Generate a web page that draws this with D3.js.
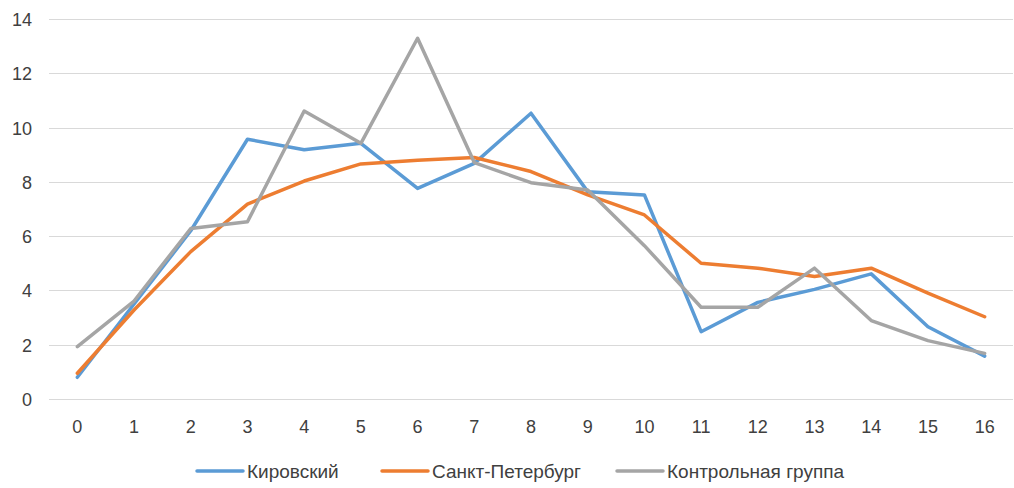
<!DOCTYPE html>
<html>
<head>
<meta charset="utf-8">
<script src="https://cdn.jsdelivr.net/npm/d3@7"></script>
<style>
  body { margin: 0; background: #fff; }
  text { font-family: "Liberation Sans", Arial, sans-serif; fill: #404040; }
</style>
</head>
<body>
<div id="chart-area"></div>
<script>
const categories = d3.range(0, 17).map(String);
const yTicks = [0, 2, 4, 6, 8, 10, 12, 14];

const kirovsky = [0.8, 3.5, 6.2, 9.57, 9.18, 9.42, 7.76, 8.68, 10.53, 7.64, 7.52, 2.48, 3.56, 4.04, 4.61, 2.66, 1.58];
const spb = [0.95, 3.28, 5.43, 7.18, 8.03, 8.66, 8.8, 8.9, 8.38, 7.52, 6.78, 5.0, 4.82, 4.51, 4.82, 3.9, 3.03];
const control = [1.93, 3.61, 6.28, 6.53, 10.61, 9.42, 13.29, 8.71, 7.97, 7.7, 5.65, 3.38, 3.38, 4.82, 2.89, 2.15, 1.68];

const seriesNames = ["Кировский", "Санкт-Петербург", "Контрольная группа"];
const seriesColors = ["#5B9BD5", "#ED7D31", "#A5A5A5"];
const seriesValues = [kirovsky, spb, control];

const width = 1014, height = 488;
const svg = d3.select("#chart-area")
    .append("svg")
    .attr("width", width)
    .attr("height", height);

const x = d3.scaleBand()
    .domain(categories)
    .range([49, 1013]);

const y = d3.scaleLinear()
    .domain([0, 14])
    .range([399, 19]);

// gridlines
svg.append("g")
    .selectAll("line")
    .data(yTicks)
    .enter()
    .append("line")
    .attr("x1", 49)
    .attr("x2", 1013)
    .attr("y1", d => Math.round(y(d)) + 0.5)
    .attr("y2", d => Math.round(y(d)) + 0.5)
    .attr("stroke", "#D9D9D9")
    .attr("stroke-width", 1);

// y labels
svg.append("g")
    .selectAll("text")
    .data(yTicks)
    .enter()
    .append("text")
    .attr("x", 32)
    .attr("y", d => y(d) + 7)
    .attr("text-anchor", "end")
    .attr("font-size", "18px")
    .text(d => d);

// x labels
svg.append("g")
    .selectAll("text")
    .data(categories)
    .enter()
    .append("text")
    .attr("x", d => x(d) + x.bandwidth() / 2)
    .attr("y", 433)
    .attr("text-anchor", "middle")
    .attr("font-size", "18px")
    .text(d => d);

const line = d3.line()
    .x((d, i) => x(categories[i]) + x.bandwidth() / 2)
    .y(d => y(d));

svg.append("g")
    .selectAll("path")
    .data(seriesValues)
    .enter()
    .append("path")
    .attr("d", d => line(d))
    .attr("fill", "none")
    .attr("stroke", (d, i) => seriesColors[i])
    .attr("stroke-width", 3.5)
    .attr("stroke-linejoin", "round")
    .attr("stroke-linecap", "round");

// legend
const legend = svg.append("g");
const starts = [197, 382, 617];
seriesNames.forEach((name, i) => {
    legend.append("line")
        .attr("x1", starts[i])
        .attr("x2", starts[i] + 46)
        .attr("y1", 471)
        .attr("y2", 471)
        .attr("stroke", seriesColors[i])
        .attr("stroke-width", 3.5)
        .attr("stroke-linecap", "round");
    legend.append("text")
        .attr("x", starts[i] + 50)
        .attr("y", 478)
        .attr("font-size", "19px")
        .text(name);
});
</script>
</body>
</html>
